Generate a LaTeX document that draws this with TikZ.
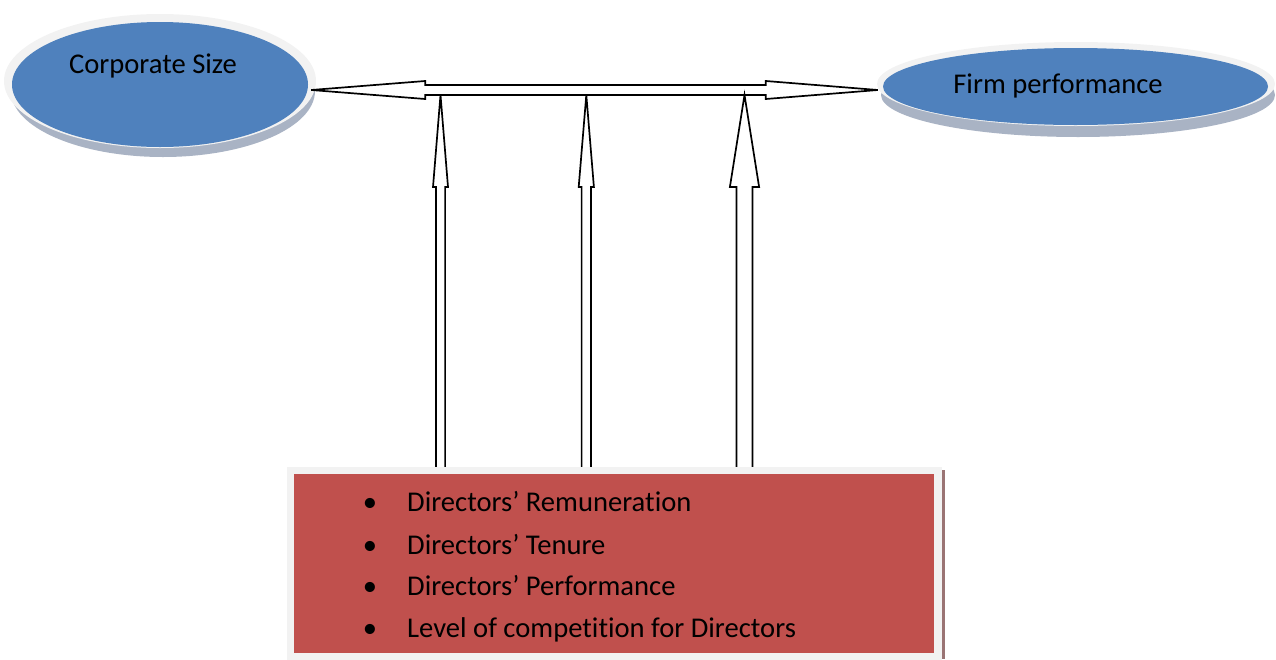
\documentclass[tikz,border=0pt]{standalone}
\usepackage{fontspec}
\setmainfont{Carlito}[Ligatures=NoCommon]
\usetikzlibrary{shapes.geometric,calc}
\definecolor{ellblue}{HTML}{4F81BD}
\definecolor{boxred}{HTML}{C0504D}
\definecolor{rimgray}{HTML}{F2F2F2}
\definecolor{hatchc}{HTML}{A9B3C4}
\definecolor{boxhatch}{HTML}{9A7474}
\tikzset{
  barrow/.style={draw=black, fill=white, line width=1.7pt, line join=miter},
  ellnode/.style={ellipse, fill=ellblue, inner sep=0pt},
  lbl/.style={font=\fontsize{28.6}{34}\selectfont, text=black, inner sep=0pt},
}
\begin{document}
\begin{tikzpicture}[x=1pt, y=-1pt]
\useasboundingbox (0,0) rectangle (1276,659);

% left ellipse: shadow, rim, body
\fill[hatchc] (163,91) ellipse [x radius=152, y radius=66];
\fill[rimgray] (160,81) ellipse [x radius=156, y radius=67];
\node[ellnode, minimum width=296pt, minimum height=125pt] (cs) at (160,84.5) {};
\node[lbl, anchor=base] (cst) at (153,73) {Corporate Size};

% right ellipse
\fill[hatchc] (1078,95) ellipse [x radius=197, y radius=42];
\fill[rimgray] (1076,84) ellipse [x radius=199, y radius=42];
\node[ellnode, minimum width=385pt, minimum height=77pt] (fp) at (1075.5,86.5) {};
\node[lbl, anchor=base] (fpt) at (1058,93) {Firm performance};

% horizontal double block arrow
\path (cs.east) ++(3,5.5) coordinate (hl);
\path (fp.west) ++(-5,3.5) coordinate (hr);
\draw[barrow] (hl) -- ++(114,-9) -- ++(0,4) -- ($(hr)+(-112,-5)$) -- ++(0,-4) -- (hr)
  -- ++(-112,9) -- ++(0,-4) -- ($(hl)+(114,5)$) -- ++(0,4) -- cycle;

% vertical block arrows
\coordinate (v1) at (440.5,95);
\coordinate (v2) at (586.3,95);
\coordinate (v3) at (744.5,95);
\draw[barrow] (v1) -- ++(7.5,92) -- ++(-2.9,0) -- ++(0,282) -- ++(-9.2,0) -- ++(0,-282) -- ++(-2.9,0) -- cycle;
\draw[barrow] (v2) -- ++(7.6,92) -- ++(-2.9,0) -- ++(0,282) -- ++(-9.4,0) -- ++(0,-282) -- ++(-2.9,0) -- cycle;
\draw[barrow] (v3) -- ++(14.6,92) -- ++(-6.6,0) -- ++(0,282) -- ++(-16,0) -- ++(0,-282) -- ++(-6.6,0) -- cycle;

% bottom box
\fill[boxhatch] (942,470) rectangle (945,659);
\fill[rimgray] (287,467) rectangle (942,660);
\node[fill=boxred, minimum width=640pt, minimum height=179pt, inner sep=0pt] (box) at (614,563.5) {};

\node[lbl, anchor=base] (b1) at (370,511) {•};
\node[lbl, anchor=base west] (t1) at (407,511) {Directors’ Remuneration};
\node[lbl, anchor=base] (b2) at (370,554) {•};
\node[lbl, anchor=base west] (t2) at (407,554) {Directors’ Tenure};
\node[lbl, anchor=base] (b3) at (370,595) {•};
\node[lbl, anchor=base west] (t3) at (407,595) {Directors’ Performance};
\node[lbl, anchor=base] (b4) at (370,637) {•};
\node[lbl, anchor=base west] (t4) at (407,637) {Level of competition for Directors};
\end{tikzpicture}
\end{document}
